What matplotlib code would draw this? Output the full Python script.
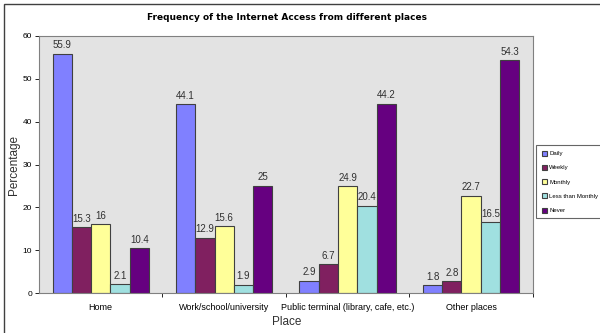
import matplotlib
matplotlib.use("Agg")
import matplotlib.pyplot as plt
import numpy as np
from matplotlib.patches import Rectangle

places = ["Home", "Work/school/university", "Public terminal (library, cafe, etc.)", "Other places"]
series = ["Daily", "Weekly", "Monthly", "Less than Monthly", "Never"]
daily = [55.9, 44.1, 2.9, 1.8]
weekly = [15.3, 12.9, 6.7, 2.8]
monthly = [16, 15.6, 24.9, 22.7]
less_monthly = [2.1, 1.9, 20.4, 16.5]
never = [10.4, 25, 44.2, 54.3]
colors = ["#8080ff", "#802060", "#ffff99", "#a0e0e0", "#660080"]

values = [daily, weekly, monthly, less_monthly, never]

plt.rcParams["font.family"] = ["Liberation Sans", "DejaVu Sans"]

fig = plt.figure(figsize=(6, 3.33), dpi=100)
ax = fig.add_axes([0.065, 0.12, 0.823, 0.772])
ax.set_facecolor("#e3e3e3")

x = np.arange(len(places))
w = 0.156
for i, (name, vals, c) in enumerate(zip(series, values, colors)):
    pos = x + (i - 2) * w
    bars = ax.bar(pos, vals, width=w, color=c, edgecolor="#404040", linewidth=0.8, label=name)
    for b, v in zip(bars, vals):
        ax.text(b.get_x() + b.get_width() / 2, v + 0.8, f"{v:g}", ha="center", va="bottom",
                fontsize=7, color="#303030")

ax.set_xlim(-0.5, 3.5)
ax.set_ylim(0, 60)
ax.set_yticks(range(0, 61, 10))
ax.tick_params(axis="y", labelsize=6, length=3, width=0.6, pad=2)
ax.set_xticks(x)
ax.set_xticklabels(places, fontsize=6.5)
ax.tick_params(axis="x", length=0, pad=7)
ax.set_xticks([0.5, 1.5, 2.5, 3.5], minor=True)
ax.tick_params(axis="x", which="minor", length=3, width=0.6)
for s in ax.spines.values():
    s.set_color("#808080")
    s.set_linewidth(0.8)

ax.set_ylabel("Percentage", fontsize=8.5, color="#303030")
ax.yaxis.set_label_coords(-0.038, 0.5)
ax.set_xlabel("Place", fontsize=8.5, color="#303030")
ax.xaxis.set_label_coords(0.502, -0.09)
fig.text(0.478, 0.947, "Frequency of the Internet Access from different places",
         ha="center", va="center", fontsize=6.5, fontweight="bold",
         family=["DejaVu Sans"])

leg = fig.legend(loc="upper left", bbox_to_anchor=(0.892, 0.567), fontsize=4.3,
                 frameon=True, fancybox=False, handlelength=0.9, handleheight=0.9,
                 handletextpad=0.35, labelspacing=1.45, borderpad=0.9, borderaxespad=0.2)
leg.get_frame().set_edgecolor("#404040")
leg.get_frame().set_linewidth(0.8)

fig.add_artist(Rectangle((4 / 600, -0.1), 1.2, 1 - 4 / 333 + 0.1, transform=fig.transFigure,
                         fill=False, edgecolor="#404040", linewidth=1.0))

fig.savefig("out.png", dpi=100)
